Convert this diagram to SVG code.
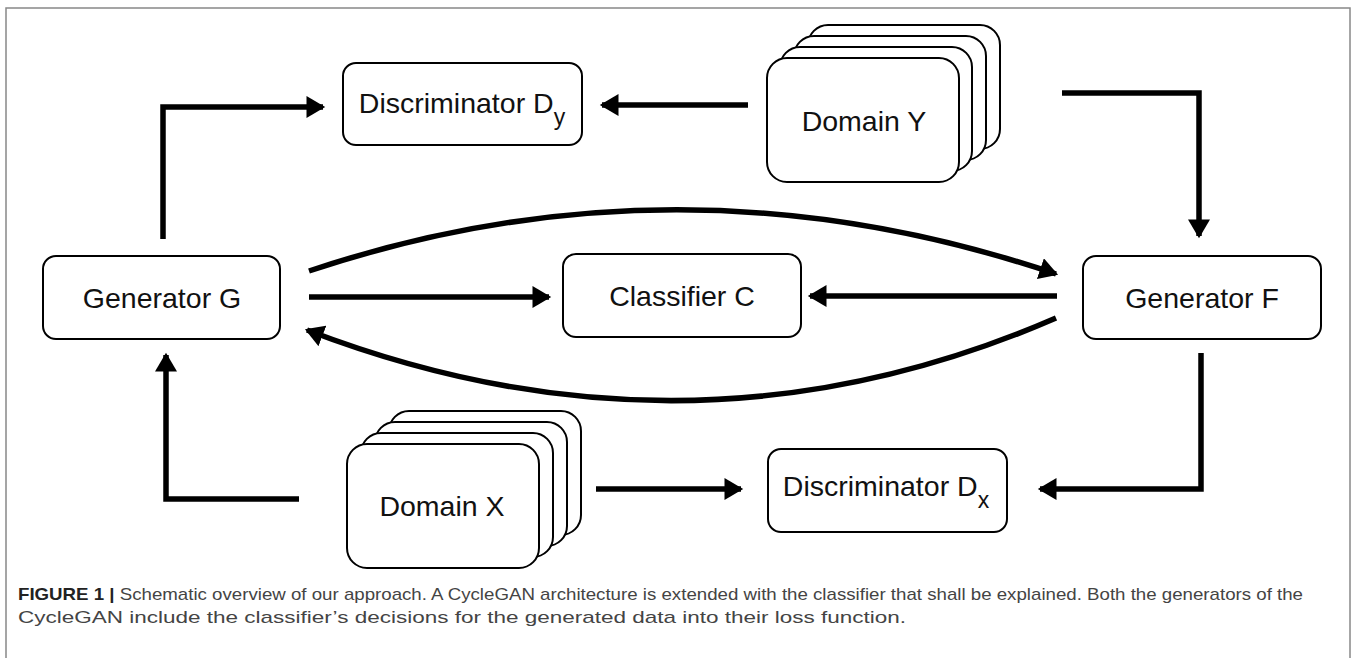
<svg xmlns="http://www.w3.org/2000/svg" width="1357" height="658" viewBox="0 0 1357 658">
<defs>
<marker id="ah" markerUnits="userSpaceOnUse" markerWidth="20" markerHeight="22" refX="15" refY="10" orient="auto" viewBox="0 0 18 20">
<path d="M0,0 L17,10 L0,20 z" fill="#000"/>
</marker>
<style>
.box{fill:#fff;stroke:#000;stroke-width:2}
.lbl{font-family:"Liberation Sans",Arial,sans-serif;font-size:28.5px;fill:#111;text-anchor:middle}
.sub{font-size:23px}
.conn{fill:none;stroke:#000;stroke-width:5.5;stroke-linejoin:miter;marker-end:url(#ah)}
.cap{font-family:"Liberation Sans",Arial,sans-serif;font-size:17px;fill:#444}
</style>
</defs>
<rect x="6" y="8" width="1344" height="670" fill="#fff" stroke="#888" stroke-width="1.5"/>

<g id="discriminator-dy">
<rect class="box" x="343" y="63" width="239" height="82" rx="13"/>
<text class="lbl" x="462" y="113">Discriminator D<tspan class="sub" dy="12">y</tspan></text>
</g>

<g id="domain-y">
<rect class="box" x="808" y="25" width="192" height="124" rx="20"/>
<rect class="box" x="794" y="36" width="192" height="124" rx="20"/>
<rect class="box" x="780" y="47" width="192" height="124" rx="20"/>
<rect class="box" x="767" y="58" width="192" height="124" rx="20"/>
<text class="lbl" x="864" y="131">Domain Y</text>
</g>

<g id="generator-g">
<rect class="box" x="43" y="256" width="237" height="83" rx="13"/>
<text class="lbl" x="162" y="308">Generator G</text>
</g>

<g id="classifier-c">
<rect class="box" x="563" y="254" width="238" height="83" rx="13"/>
<text class="lbl" x="682" y="306">Classifier C</text>
</g>

<g id="generator-f">
<rect class="box" x="1083" y="256" width="238" height="83" rx="13"/>
<text class="lbl" x="1202" y="308">Generator F</text>
</g>

<g id="domain-x">
<rect class="box" x="389" y="411" width="192" height="124" rx="20"/>
<rect class="box" x="375" y="422" width="192" height="124" rx="20"/>
<rect class="box" x="361" y="433" width="192" height="124" rx="20"/>
<rect class="box" x="347" y="444" width="192" height="124" rx="20"/>
<text class="lbl" x="442" y="516">Domain X</text>
</g>

<g id="discriminator-dx">
<rect class="box" x="768" y="449" width="239" height="83" rx="13"/>
<text class="lbl" x="886" y="496">Discriminator D<tspan class="sub" dy="12">x</tspan></text>
</g>

<g id="connectors">
<path class="conn" d="M163,239 V107 H323"/>
<path class="conn" d="M748,105 H602"/>
<path class="conn" d="M1062,93 H1199 V236"/>
<path class="conn" d="M309,297 H549"/>
<path class="conn" d="M1057,296 H810"/>
<path class="conn" d="M309,271 Q680,147 1056,274"/>
<path class="conn" d="M1056,318 Q690,477 307,330"/>
<path class="conn" d="M1201,353 V489 H1040"/>
<path class="conn" d="M596,489 H741"/>
<path class="conn" d="M299,499 H166 V355"/>
</g>

<g id="caption">
<text class="cap" x="18" y="600" textLength="1285" lengthAdjust="spacingAndGlyphs"><tspan font-weight="bold" fill="#222">FIGURE 1 |</tspan> Schematic overview of our approach. A CycleGAN architecture is extended with the classifier that shall be explained. Both the generators of the</text>
<text class="cap" x="18" y="623" textLength="888" lengthAdjust="spacingAndGlyphs">CycleGAN include the classifier’s decisions for the generated data into their loss function.</text>
</g>
</svg>
